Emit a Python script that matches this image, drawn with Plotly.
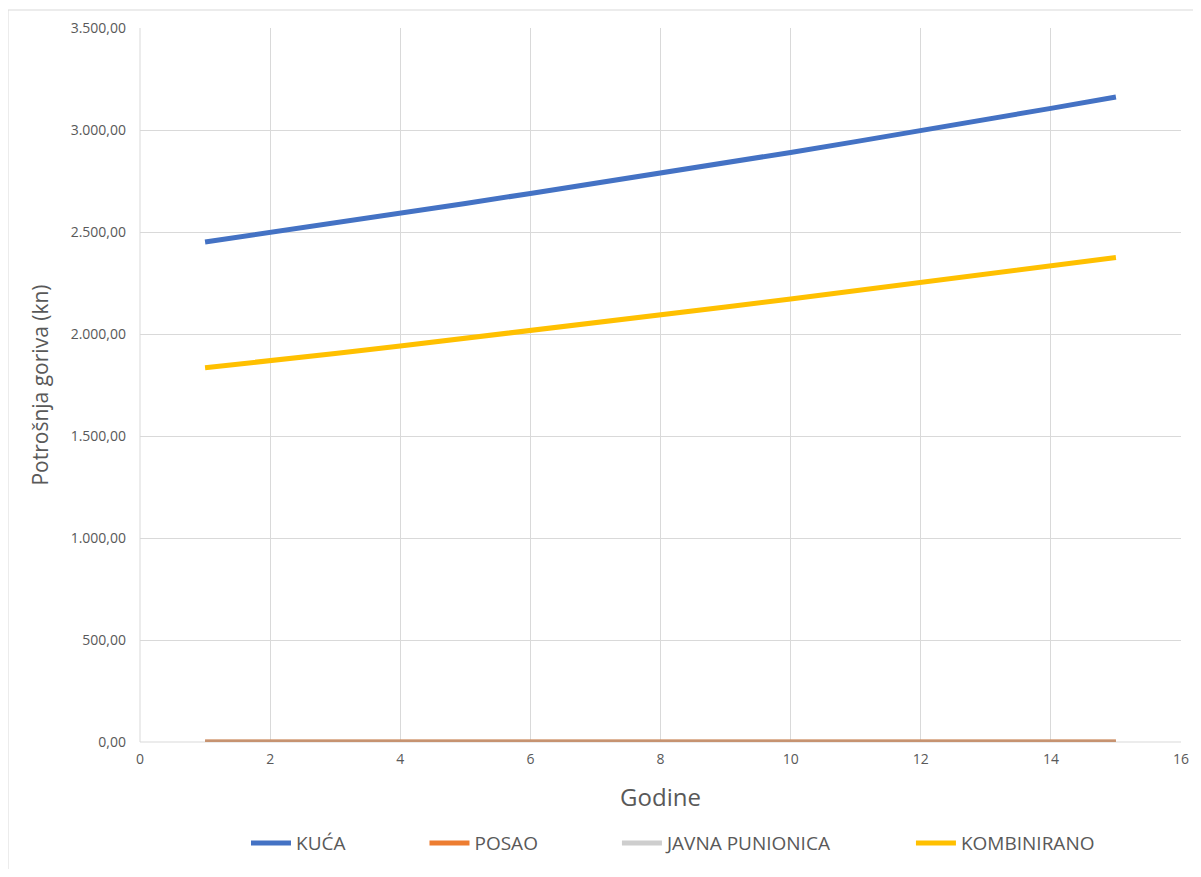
import plotly.graph_objects as go

godine = list(range(1, 16))
kuca = [2451, 2497, 2544, 2593, 2640, 2689, 2738, 2788, 2838, 2890, 2943, 2996, 3050, 3106, 3162]
posao = [0] * 15
javna = [0] * 15
kombinirano = [1835, 1868, 1904, 1941, 1978, 2015, 2054, 2093, 2132, 2172, 2213, 2255, 2296, 2338, 2375]

NB = "\u00a0"
gap = NB * 15

fig = go.Figure()
fig.add_trace(go.Scatter(x=godine, y=kuca, mode="lines", name="KUĆA" + gap,
                         line=dict(color="#4472C4", width=5)))
fig.add_trace(go.Scatter(x=godine, y=posao, mode="lines", name="POSAO" + gap,
                         line=dict(color="#ED7D31", width=5)))
fig.add_trace(go.Scatter(x=godine, y=javna, mode="lines", name="JAVNA PUNIONICA" + gap,
                         line=dict(color="rgba(165,165,165,0.55)", width=5)))
fig.add_trace(go.Scatter(x=godine, y=kombinirano, mode="lines", name="KOMBINIRANO",
                         line=dict(color="#FFC000", width=5)))

fontfam = "Open Sans, Noto Sans, sans-serif"
fig.update_layout(
    width=1185, height=861,
    margin=dict(l=132, r=12, t=20, b=127, autoexpand=False),
    paper_bgcolor="white", plot_bgcolor="white",
    separators=",.",
    font=dict(family=fontfam, color="#595959"),
    showlegend=True,
    legend=dict(orientation="h", x=0.512, xanchor="center", y=-0.115, yanchor="top",
                font=dict(size=19, color="#595959"), itemwidth=40),
    xaxis=dict(range=[0, 16], dtick=2, tick0=0, showgrid=True, gridcolor="#D9D9D9",
               gridwidth=1, zeroline=False, showline=False, automargin=False,
               tickfont=dict(size=14, color="#595959"), ticklabelstandoff=7,
               title=dict(text="Godine", font=dict(size=24, color="#595959"), standoff=22)),
    yaxis=dict(range=[0, 3500], dtick=500, tickformat=",.2f", showgrid=True,
               gridcolor="#D9D9D9", gridwidth=1, zeroline=False, showline=False, automargin=False,
               tickfont=dict(size=14, color="#595959"), ticklabelstandoff=13,
               title=dict(text="Potrošnja goriva (kn)", font=dict(size=21, color="#595959"), standoff=16)),
    shapes=[
        dict(type="rect", xref="paper", yref="paper", x0=-0.1268, x1=1.2, y0=-0.3, y1=1.0252,
             line=dict(color="#D9D9D9", width=1), fillcolor="rgba(0,0,0,0)", layer="below"),
        dict(type="line", xref="paper", yref="paper", x0=0, x1=0, y0=0, y1=1,
             line=dict(color="#D9D9D9", width=1), layer="below"),
        dict(type="line", xref="paper", yref="paper", x0=0, x1=1, y0=0, y1=0,
             line=dict(color="#D9D9D9", width=1), layer="below"),
    ],
)

fig.write_html("out.html")
